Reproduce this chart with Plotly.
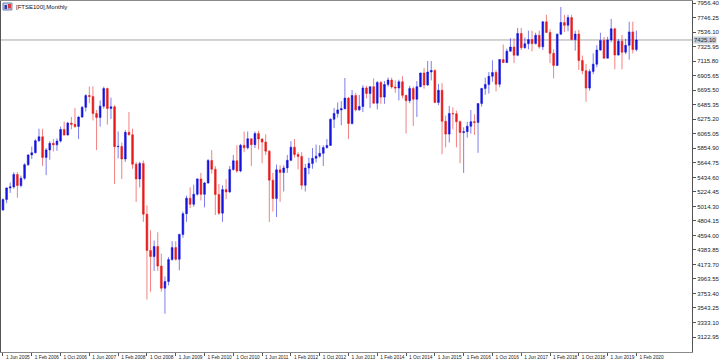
import plotly.graph_objects as go

# FTSE100 monthly bars, Jun 2005 .. Feb 2020
opens = [
    4964, 5113, 5282, 5297, 5478, 5317, 5423,
    5619, 5760, 5792, 5965, 6023, 5724, 5833, 5928, 5906, 5961, 6129, 6049,
    6221, 6203, 6172, 6308, 6449, 6621, 6608, 6360, 6303, 6467, 6722, 6433,
    6457, 5880, 5884, 5702, 6087, 6053, 5626, 5412, 5637, 4902, 4377, 4288,
    4434, 4150, 3830, 3926, 4244, 4418, 4249, 4608, 4909, 5134, 5045, 5191,
    5413, 5189, 5355, 5680, 5553, 5188, 4917, 5258, 5225, 5549, 5675, 5528,
    5900, 5863, 5994, 5909, 6070, 5990, 5946, 5815, 5395, 5128, 5544, 5505,
    5572, 5682, 5872, 5768, 5738, 5321, 5571, 5635, 5711, 5742, 5783, 5867,
    5898, 6277, 6361, 6412, 6430, 6583, 6215, 6621, 6413, 6462, 6731, 6651,
    6749, 6510, 6810, 6598, 6780, 6845, 6744, 6730, 6820, 6623, 6546, 6723,
    6566, 6749, 6947, 6773, 6961, 6984, 6521, 6696, 6248, 6062, 6361, 6356,
    6242, 6084, 6097, 6175, 6242, 6231, 6504, 6724, 6782, 6899, 6954, 6784,
    7143, 7099, 7263, 7323, 7204, 7520, 7313, 7372, 7431, 7373, 7493, 7327,
    7688, 7534, 7232, 7057, 7509, 7678, 7637, 7749, 7432, 7510, 7128, 6980,
    6728, 6969, 7075, 7279, 7418, 7162, 7426, 7587, 7207, 7408, 7248, 7347,
    7542, 7286,
]
highs = [
    5130, 5290, 5360, 5510, 5510, 5460, 5640,
    5770, 5880, 5990, 6140, 6138, 5860, 5960, 5990, 6000, 6170, 6240, 6240,
    6310, 6440, 6320, 6470, 6640, 6750, 6754, 6410, 6550, 6750, 6735, 6590,
    6480, 6100, 5940, 6120, 6380, 6140, 5660, 5660, 5680, 5030, 4670, 4520,
    4640, 4330, 4000, 4280, 4510, 4510, 4620, 4940, 5170, 5290, 5330, 5420,
    5500, 5370, 5700, 5830, 5600, 5340, 5320, 5410, 5600, 5760, 5900, 5920,
    6100, 6100, 6000, 6100, 6110, 6000, 6060, 5830, 5500, 5620, 5610, 5610,
    5760, 5960, 5990, 5800, 5800, 5630, 5720, 5860, 5910, 5900, 5900, 5990,
    6290, 6440, 6520, 6540, 6875, 6600, 6700, 6660, 6630, 6770, 6760, 6750,
    6870, 6830, 6830, 6830, 6880, 6880, 6840, 6850, 6900, 6630, 6760, 6750,
    6830, 6950, 7020, 7120, 7120, 7000, 6790, 6800, 6330, 6470, 6450, 6400,
    6260, 6160, 6240, 6410, 6350, 6400, 6730, 6880, 6960, 7130, 6990, 7150,
    7360, 7300, 7450, 7450, 7600, 7600, 7460, 7560, 7560, 7530, 7560, 7700,
    7790, 7580, 7290, 7520, 7903, 7790, 7790, 7790, 7560, 7570, 7200, 7080,
    7000, 7230, 7350, 7530, 7470, 7470, 7730, 7600, 7440, 7500, 7440, 7690,
    7690, 7560,
]
lows = [
    4950, 5060, 5210, 5270, 5140, 5290, 5400,
    5600, 5700, 5780, 5950, 5600, 5467, 5690, 5810, 5820, 5940, 6040, 6040,
    6130, 6150, 5990, 6300, 6390, 6510, 6260, 5830, 6170, 6430, 6200, 6280,
    5340, 5710, 5410, 5660, 6040, 5560, 5080, 5290, 4790, 3665, 3780, 4080,
    4080, 3780, 3460, 3870, 4230, 4230, 4090, 4560, 4790, 4990, 5010, 5170,
    5100, 5000, 5340, 5490, 4890, 4890, 4790, 5120, 5210, 5530, 5500, 5510,
    5800, 5840, 5600, 5860, 5840, 5640, 5760, 4790, 4940, 4860, 5080, 5230,
    5500, 5670, 5720, 5550, 5260, 5230, 5480, 5560, 5650, 5720, 5600, 5850,
    5890, 6150, 6300, 6190, 6420, 5990, 6200, 6390, 6400, 6380, 6580, 6440,
    6500, 6420, 6500, 6500, 6750, 6720, 6660, 6550, 6580, 6070, 6510, 6180,
    6310, 6740, 6720, 6760, 6840, 6510, 6480, 5770, 5870, 5940, 6130, 5870,
    5640, 5500, 6010, 6070, 6050, 5790, 6460, 6630, 6650, 6820, 6680, 6740,
    7090, 7090, 7260, 7090, 7190, 7280, 7300, 7290, 7260, 7360, 7300, 7280,
    7530, 7090, 6870, 7050, 7500, 7540, 7550, 7420, 7270, 6990, 6930, 6530,
    6690, 6930, 7030, 7270, 7150, 7160, 7390, 7000, 7200, 7000, 7220, 7140,
    7230, 7260,
]
closes = [
    5113, 5282, 5297, 5478, 5317, 5423, 5619,
    5760, 5792, 5965, 6023, 5724, 5833, 5928, 5906, 5961, 6129, 6049, 6221,
    6203, 6172, 6308, 6449, 6621, 6608, 6360, 6303, 6467, 6722, 6433, 6457,
    5880, 5884, 5702, 6087, 6053, 5626, 5412, 5637, 4902, 4377, 4288, 4434,
    4150, 3830, 3926, 4244, 4418, 4249, 4608, 4909, 5134, 5045, 5191, 5413,
    5189, 5355, 5680, 5553, 5188, 4917, 5258, 5225, 5549, 5675, 5528, 5900,
    5863, 5994, 5909, 6070, 5990, 5946, 5815, 5395, 5128, 5544, 5505, 5572,
    5682, 5872, 5768, 5738, 5321, 5571, 5635, 5711, 5742, 5783, 5867, 5898,
    6277, 6361, 6412, 6430, 6583, 6215, 6621, 6413, 6462, 6731, 6651, 6749,
    6510, 6810, 6598, 6780, 6845, 6744, 6730, 6820, 6623, 6546, 6723, 6566,
    6749, 6947, 6773, 6961, 6984, 6521, 6696, 6248, 6062, 6361, 6356, 6242,
    6084, 6097, 6175, 6242, 6231, 6504, 6724, 6782, 6899, 6954, 6784, 7143,
    7099, 7263, 7323, 7204, 7520, 7313, 7372, 7431, 7373, 7493, 7327, 7688,
    7534, 7232, 7057, 7509, 7678, 7637, 7749, 7432, 7510, 7128, 6980, 6728,
    6969, 7075, 7279, 7418, 7162, 7426, 7587, 7207, 7408, 7248, 7347, 7542,
    7286, 7425.10,
]

x_tick_labels = [
    "1 Jun 2005", "1 Feb 2006", "1 Oct 2006", "1 Jun 2007", "1 Feb 2008",
    "1 Oct 2008", "1 Jun 2009", "1 Feb 2010", "1 Oct 2010", "1 Jun 2011",
    "1 Feb 2012", "1 Oct 2012", "1 Jun 2013", "1 Feb 2014", "1 Oct 2014",
    "1 Jun 2015", "1 Feb 2016", "1 Oct 2016", "1 Jun 2017", "1 Feb 2018",
    "1 Oct 2018", "1 Jun 2019", "1 Feb 2020",
]
y_tick_labels = [
    "3122.95", "3333.10", "3543.25", "3753.40", "3963.55", "4173.70",
    "4383.85", "4594.00", "4804.15", "5014.30", "5224.45", "5434.60",
    "5644.75", "5854.90", "6065.05", "6275.20", "6485.35", "6695.50",
    "6905.65", "7115.80", "7325.95", "7536.10", "7746.25", "7956.40",
]
title_text = "[FTSE100],Monthly"

bar_pos = list(range(len(closes)))
x_tick_pos = list(range(0, len(closes), 8))
y_tick_vals = [float(v) for v in y_tick_labels]
last_price = closes[-1]

UP = "rgb(20,20,220)"
DOWN = "rgb(230,28,28)"

fig = go.Figure()
fig.add_trace(go.Candlestick(
    x=bar_pos, open=opens, high=highs, low=lows, close=closes,
    increasing=dict(line=dict(color="rgba(20,20,220,0.55)", width=1), fillcolor=UP),
    decreasing=dict(line=dict(color="rgba(230,28,28,0.55)", width=1), fillcolor=DOWN),
    whiskerwidth=0, hoverinfo="skip",
))

# current price line
fig.add_shape(type="line", xref="paper", x0=0, x1=1, yref="y", y0=last_price, y1=last_price,
              line=dict(color="#a6a6a6", width=1), layer="below")
fig.add_annotation(xref="paper", x=1, xanchor="left", xshift=1, yref="y", y=last_price,
                   text=f"{last_price:.2f}", showarrow=False, bgcolor="#c4ccd6",
                   borderpad=0, font=dict(size=6, family="Liberation Sans", color="#1a2a3a"))

# title + little chart icon
fig.add_annotation(xref="paper", yref="paper", x=0, y=1, xanchor="left", yanchor="top",
                   xshift=13, yshift=-1, text=title_text, showarrow=False,
                   font=dict(size=6, family="Liberation Sans", color="#101010"))
W, H = 696.0, 351.0
def px(xp): return xp / W
def py(yp): return 1 - yp / H
fig.add_shape(type="rect", xref="paper", yref="paper", x0=px(2), x1=px(11), y0=py(9), y1=py(2),
              fillcolor="#c8d4ee", line=dict(color="#7080b0", width=1))
fig.add_shape(type="rect", xref="paper", yref="paper", x0=px(3.5), x1=px(6), y0=py(8), y1=py(4),
              fillcolor="#2a3ca8", line=dict(width=0))
fig.add_shape(type="rect", xref="paper", yref="paper", x0=px(7), x1=px(10), y0=py(7.5), y1=py(3),
              fillcolor="#d83838", line=dict(width=0))

axis_font = dict(size=6, family="Liberation Sans", color="#222222")
fig.update_layout(
    width=720, height=360,
    margin=dict(l=0, r=24, t=1, b=8),
    paper_bgcolor="white", plot_bgcolor="white",
    showlegend=False,
    xaxis=dict(
        range=[-0.55, 191.45], tickmode="array", tickvals=x_tick_pos, ticktext=x_tick_labels,
        ticks="outside", ticklen=3, tickcolor="#555555", tickwidth=1, tickangle=0,
        ticklabelposition="outside right", ticklabelstandoff=0, ticklabelshift=2,
        showgrid=False, zeroline=False, showline=True, linecolor="#8a8a8a", linewidth=1,
        mirror=True, tickfont=dict(size=4.8, family="Liberation Sans", color="#222222"),
        rangeslider=dict(visible=False), fixedrange=True,
    ),
    yaxis=dict(
        side="right", range=[2905.7, 7989.7], tickmode="array", tickvals=y_tick_vals,
        ticktext=y_tick_labels, ticks="outside", ticklen=3, tickcolor="#555555", tickwidth=1,
        showgrid=False, zeroline=False, showline=True, linecolor="#555555", linewidth=1,
        mirror=True, tickfont=axis_font, fixedrange=True, ticklabelstandoff=0,
    ),
)

fig.write_html("out.html")
